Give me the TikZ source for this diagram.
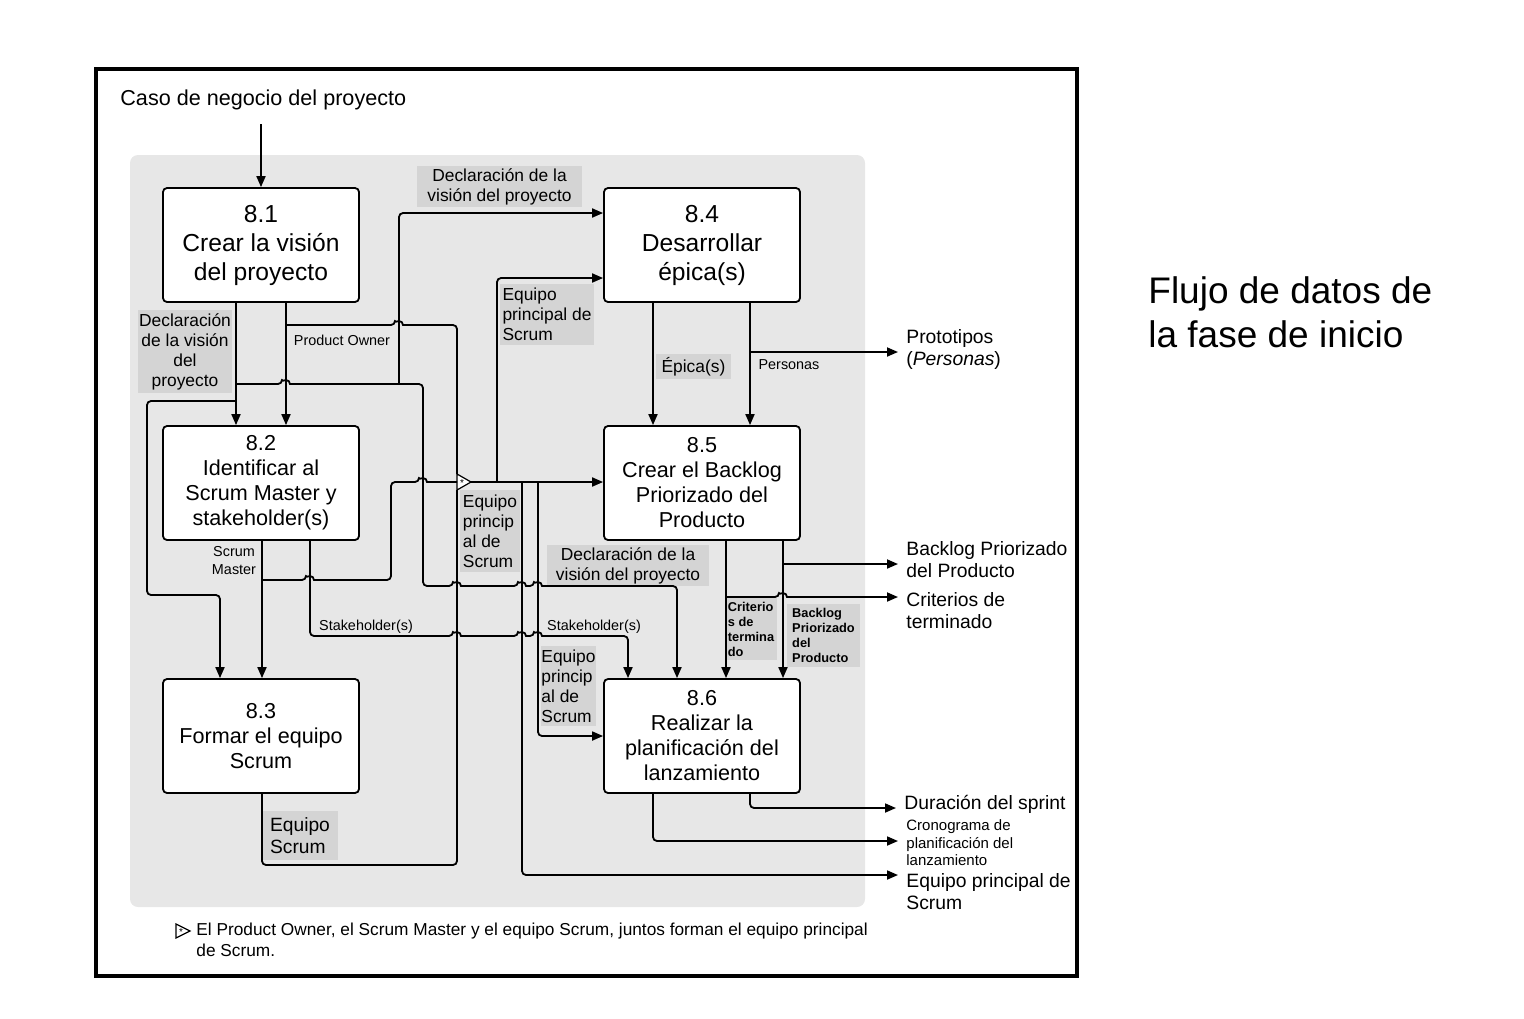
\documentclass[tikz,border=0pt]{standalone}
\usepackage{fontspec}
\setmainfont{Liberation Sans}
\usetikzlibrary{arrows.meta}
\definecolor{panelgrey}{RGB}{231,231,231}
\definecolor{lblgrey}{RGB}{212,212,212}
\newcommand{\titfont}{\fontsize{18.5}{22}\selectfont}
\newcommand{\bigboxfont}{\fontsize{12.3}{14.5}\selectfont}
\newcommand{\boxfont}{\fontsize{10.8}{12.5}\selectfont}
\newcommand{\lblfont}{\fontsize{8.7}{10}\selectfont}
\newcommand{\smallfont}{\fontsize{7.2}{9}\selectfont}
\newcommand{\boldlblfont}{\fontsize{6.4}{7.5}\selectfont\bfseries}
\newcommand{\outfont}{\fontsize{9.66}{11}\selectfont}
\newcommand{\cronfont}{\fontsize{7.5}{8.75}\selectfont}
\newcommand{\notefont}{\fontsize{8.64}{10.5}\selectfont}
% little bump where a line jumps over another one
\newcommand{\hopr}{[sharp corners] arc[start angle=180,end angle=360,radius=4] [rounded corners=2pt]}
\begin{document}
\begin{tikzpicture}[x=0.5pt,y=-0.5pt]
\tikzset{
  proc/.style={draw,line width=0.9pt,fill=white,rounded corners=2pt,
    minimum width=98pt,minimum height=57pt,align=center,font=\boxfont},
  lbl/.style={fill=lblgrey,inner sep=0pt,font=\lblfont},
  plainlbl/.style={inner sep=0pt,font=\smallfont,align=center},
  outlbl/.style={anchor=west,inner xsep=4pt,inner ysep=0pt,align=left,font=\outfont},
  wire/.style={line width=0.9pt,rounded corners=2pt},
  flow/.style={wire,-{Triangle[length=5.5pt,width=4.5pt]}},
}
\useasboundingbox (0,0) rectangle (1524,1018);
\fill[panelgrey,rounded corners=4pt] (130,155) rectangle (865,907);
\draw[line width=1.6pt] (96,69) rectangle (1077,976);

% title and input
\node[anchor=north west,align=left,font=\titfont,inner sep=0] (title) at (1148,276)
  {Flujo de datos de\\la fase de inicio};
\node[anchor=west,font=\boxfont,inner sep=0] (caso) at (120,100) {Caso de negocio del proyecto};
\coordinate (cin) at (261,124);

% processes
\node[proc,font=\bigboxfont] (p81) at (261,245) {8.1\\Crear la visión\\del proyecto};
\node[proc] (p82) at (261,483) {8.2\\Identificar al\\Scrum Master y\\stakeholder(s)};
\node[proc] (p83) at (261,736) {8.3\\Formar el equipo\\Scrum};
\node[proc,font=\bigboxfont] (p84) at (702,245) {8.4\\Desarrollar\\épica(s)};
\node[proc] (p85) at (702,483) {8.5\\Crear el Backlog\\Priorizado del\\Producto};
\node[proc] (p86) at (702,736) {8.6\\Realizar la\\planificación del\\lanzamiento};

% grey labels
\node[lbl,minimum width=82.5pt,minimum height=20.5pt,align=center] (ldec1) at (499.5,186.5) {Declaración de la\\visión del proyecto};
\node[lbl,minimum width=47pt,minimum height=41.5pt,align=center] (ldec2) at (185,351.5) {Declaración\\de la visión\\del\\proyecto};
\node[lbl,minimum width=47pt,minimum height=30.5pt,align=left] (leq1) at (547,314.5) {Equipo\\principal de\\Scrum};
\node[lbl,minimum width=30pt,minimum height=41pt,align=left] (leq2) at (490,531) {Equipo\\princip\\al de\\Scrum};
\node[lbl,minimum width=81pt,minimum height=20.5pt,align=center] (ldec3) at (628,565.5) {Declaración de la\\visión del proyecto};
\node[lbl,minimum width=27.5pt,minimum height=40pt,align=left] (leq3) at (568.5,686) {Equipo\\princip\\al de\\Scrum};
\node[lbl,minimum width=37.5pt,minimum height=12.5pt] (lepi) at (693.5,366.5) {Épica(s)};
\node[lbl,minimum width=37.5pt,minimum height=24.5pt,align=left,font=\fontsize{9.6}{11}\selectfont] (leqs) at (300,835.5) {Equipo\\Scrum};
\node[lbl,minimum width=26pt,minimum height=31pt,align=left,font=\boldlblfont] (lcrit) at (751,629) {Criterio\\s de\\termina\\do};
\node[lbl,minimum width=36.5pt,minimum height=31.5pt,align=left,font=\boldlblfont] (lbpp) at (823.5,635.5) {Backlog\\Priorizado\\del\\Producto};

% plain labels
\node[plainlbl] (lpo) at (342,340) {Product Owner};
\node[plainlbl] (lsm) at (234,561) {Scrum\\Master};
\node[plainlbl] (lper) at (789,365) {Personas};
\node[plainlbl] (lst1) at (366,627) {Stakeholder(s)};
\node[plainlbl] (lst2) at (594,627) {Stakeholder(s)};

% outputs
\node[outlbl] (oprot) at (898,349) {Prototipos\\(\textit{Personas})};
\node[outlbl] (obpp) at (898,560) {Backlog Priorizado\\del Producto};
\node[outlbl] (ocrit) at (898,611) {Criterios de\\terminado};
\node[outlbl] (odur) at (896,804) {Duración del sprint};
\node[outlbl,font=\cronfont] (ocron) at (898,843) {Cronograma de\\planificación del\\lanzamiento};
\node[outlbl] (oeq) at (898,892) {Equipo principal de\\Scrum};

% junction of the three roles
\coordinate (jtop) at (457,474);
\coordinate (jin) at (457,482);
\coordinate (jbot) at (457,490);
\coordinate (jout) at (471,482);
\draw[line width=0.6pt,fill=white] (jtop) -- (jout) -- (jbot) -- cycle;
\node[inner sep=0,font=\fontsize{5}{5}\selectfont] at (462,483) {*};

% connectors
\draw[flow] (cin) -- (p81);
\draw[flow] (p81.south -| 236,0) -- (p82.north -| 236,0);
\draw[flow] (236,384) -- (282,384) \hopr -- (423,384) -- (423,586) -- (453,586) \hopr
  -- (518,586) \hopr -- (534,586) \hopr -- (677,586) -- (p86.north -| 677,0);
\draw[flow] (399,384) -- (399,213) -- (p84.west |- 0,213);
\draw[flow] (236,401) -- (147,401) -- (147,595) -- (220,595) -- (p83.north -| 220,0);
\draw[flow] (p81.south -| 286,0) -- (p82.north -| 286,0);
\draw[wire] (286,325) -- (395,325) \hopr -- (457,325) -- (jtop);
\draw[wire] (p83.south -| 262,0) -- (262,865) -- (457,865) -- (jbot);
\draw[flow] (p82.south -| 262,0) -- (p83.north -| 262,0);
\draw[wire] (262,580) -- (306,580) \hopr -- (391,580) -- (391,482) -- (419,482) \hopr -- (jin);
\draw[flow] (p82.south -| 310,0) -- (310,636) -- (453,636) \hopr -- (518,636) \hopr
  -- (534,636) \hopr -- (628,636) -- (p86.north -| 628,0);
\draw[flow] (jout) -- (p85.west |- jout);
\draw[flow] (497,482) -- (497,278) -- (p84.west |- 0,278);
\draw[flow] (538,482) -- (538,736) -- (p86.west |- 0,736);
\draw[flow] (522,482) -- (522,875) -- (oeq.west |- 0,875);
\draw[flow] (p84.south -| 653,0) -- (p85.north -| 653,0);
\draw[flow] (p84.south -| 750,0) -- (p85.north -| 750,0);
\draw[flow] (750,352) -- (oprot.west |- 0,352);
\draw[flow] (p85.south -| 726,0) -- (p86.north -| 726,0);
\draw[flow] (p85.south -| 783,0) -- (p86.north -| 783,0);
\draw[flow] (783,564) -- (obpp.west |- 0,564);
\draw[flow] (726,597) -- (779,597) \hopr -- (ocrit.west |- 0,597);
\draw[flow] (p86.south -| 750,0) -- (750,808) -- (odur.west |- 0,808);
\draw[flow] (p86.south -| 653,0) -- (653,841) -- (ocron.west |- 0,841);

% note
\draw[line width=0.6pt,fill=white] (176,924) -- (190,931) -- (176,938) -- cycle;
\node[inner sep=0,font=\fontsize{5}{5}\selectfont] at (181,932) {*};
\node[anchor=north west,align=left,font=\notefont,inner sep=0] (note) at (196,923)
  {El Product Owner, el Scrum Master y el equipo Scrum, juntos forman el equipo principal\\de Scrum.};
\end{tikzpicture}
\end{document}
